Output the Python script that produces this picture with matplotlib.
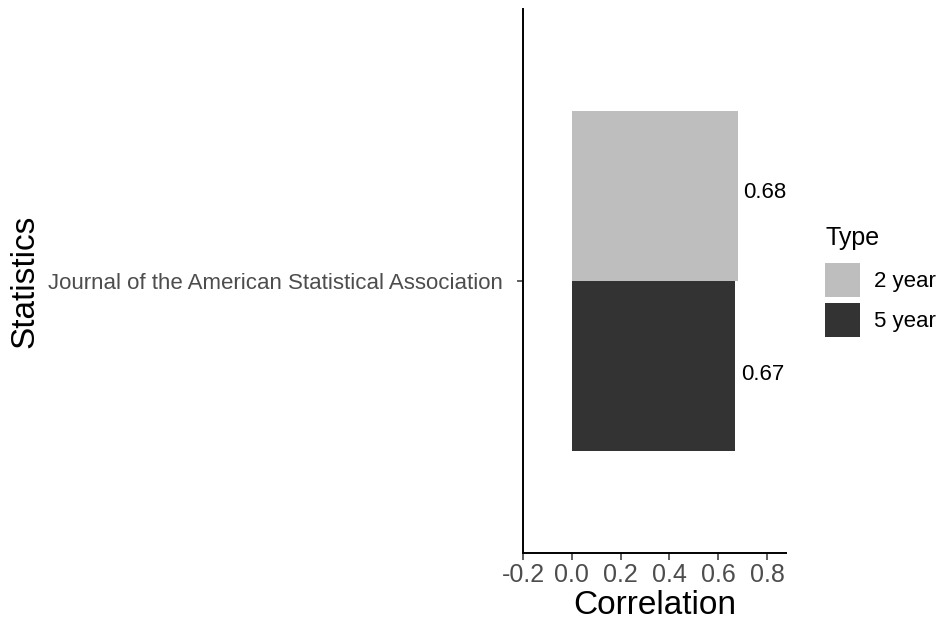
import matplotlib
matplotlib.use("Agg")
import matplotlib.pyplot as plt
from matplotlib.patches import Patch

plt.rcParams['font.family'] = ['Liberation Sans', 'DejaVu Sans']

# data
category = ["Journal of the American Statistical Association"]
types = ["2 year", "5 year"]
values = [0.68, 0.67]
labels = ["0.68", "0.67"]
colors = ["#BEBEBE", "#333333"]

W, H = 938, 624
fig = plt.figure(figsize=(W / 100, H / 100), dpi=100)
left, right, bottom, top = 523, 786, 553, 9
ax = fig.add_axes([left / W, 1 - bottom / H, (right - left) / W, (bottom - top) / H])

bar_h = 0.375
offsets = [bar_h / 2, -bar_h / 2]
label_offsets = [0.195, -0.206]
for i, t in enumerate(types):
    ax.barh(1 + offsets[i], values[i], height=bar_h, color=colors[i], label=t)
    ax.text(values[i] + 0.024, 1 + label_offsets[i], labels[i], ha='left', va='center',
            fontsize=16, color='black')

ax.set_xlim(-0.2, 0.878)
ax.set_ylim(0.4, 1.6)
ax.set_xticks([-0.2, 0.0, 0.2, 0.4, 0.6, 0.8])
ax.set_xticklabels(["-0.2", "0.0", "0.2", "0.4", "0.6", "0.8"])
ax.set_yticks([1])
ax.set_yticklabels(category)
ax.tick_params(axis='x', labelsize=18, labelcolor='#4D4D4D', color='#333333', length=5, width=1.1, pad=2)
ax.tick_params(axis='y', labelsize=16, labelcolor='#4D4D4D', color='#333333', length=4.5, width=1.1, pad=10)
for s in ['top', 'right']:
    ax.spines[s].set_visible(False)
for s in ['left', 'bottom']:
    ax.spines[s].set_linewidth(1.4)
    ax.spines[s].set_color('black')
ax.set_xlabel("Correlation", fontsize=24, labelpad=2)
ax.set_ylabel("Statistics", fontsize=24)
ax.yaxis.set_label_coords(25 / W, 1 - 281 / H, transform=fig.transFigure)
ax.yaxis.label.set_va('center')

fig.text(825 / W, 1 - 238 / H, "Type", fontsize=18, ha='left', va='center')
handles = [Patch(facecolor=c, edgecolor='none') for c in colors]
leg = fig.legend(handles, types, loc='upper left', bbox_to_anchor=(816 / W, 1 - 254 / H),
                 frameon=False, fontsize=16,
                 handlelength=1.6, handleheight=2.0, labelspacing=0.24, handletextpad=0.62,
                 borderaxespad=0)

fig.savefig("out.png", dpi=100)
